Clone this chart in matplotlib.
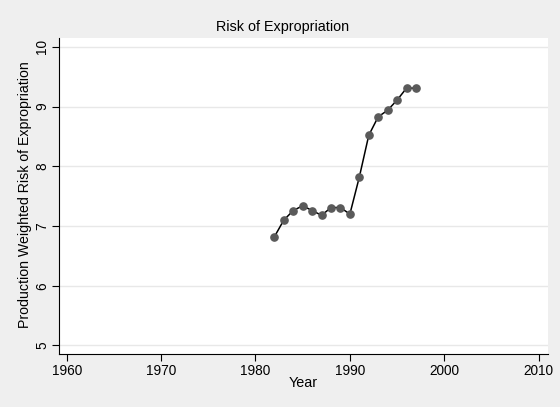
import numpy as np
import matplotlib.pyplot as plt

plt.rcParams['font.family'] = ['Liberation Sans', 'DejaVu Sans']

years = [1982, 1983, 1984, 1985, 1986, 1987, 1988, 1989, 1990,
         1991, 1992, 1993, 1994, 1995, 1996, 1997]
risk = [6.82, 7.10, 7.26, 7.34, 7.26, 7.18, 7.31, 7.31, 7.20,
        7.82, 8.52, 8.83, 8.94, 9.11, 9.31, 9.31]
xticks = [1960, 1970, 1980, 1990, 2000, 2010]
yticks = [5, 6, 7, 8, 9, 10]

fig = plt.figure(figsize=(5.6, 4.07), dpi=100, facecolor='#efefef')
ax = fig.add_axes([58.7 / 560, 1 - 354 / 407, (548 - 58.7) / 560, (354 - 38) / 407])
ax.set_facecolor('white')

ax.plot(years, risk, '-', color='black', lw=1.1, zorder=3)
ax.plot(years, risk, 'o', color='#5a5a5a', ms=5.2, mec='#5a5a5a', zorder=4)

ax.set_xlim(1959.15, 2010.99)
ax.set_ylim(4.857, 10.15)
ax.set_xticks(xticks)
ax.set_yticks(yticks)
ax.set_yticklabels([str(v) for v in yticks], rotation=90, va='center')
ax.grid(True, axis='y', color='#e8e8e8', lw=1)
ax.set_axisbelow(True)

for s in ['top', 'right']:
    ax.spines[s].set_visible(False)
ax.spines['left'].set_color('black')
ax.spines['bottom'].set_color('black')
ax.tick_params(direction='out', length=5, width=0.8, labelsize=9.8, colors='black')
ax.tick_params(axis='x', pad=2)
ax.tick_params(axis='y', pad=2)

# title is centred on the whole graph, not on the plot region
fig.text(283 / 560, 1 - 27 / 407, 'Risk of Expropriation', fontsize=10.4,
         ha='center', va='center')
ax.set_xlabel('Year', fontsize=10.4, labelpad=-1)
ax.set_ylabel('Production Weighted Risk of Expropriation', fontsize=10.2)
ax.yaxis.set_label_coords(-0.054, 0.503)

fig.savefig('out.png', dpi=100, facecolor=fig.get_facecolor())
